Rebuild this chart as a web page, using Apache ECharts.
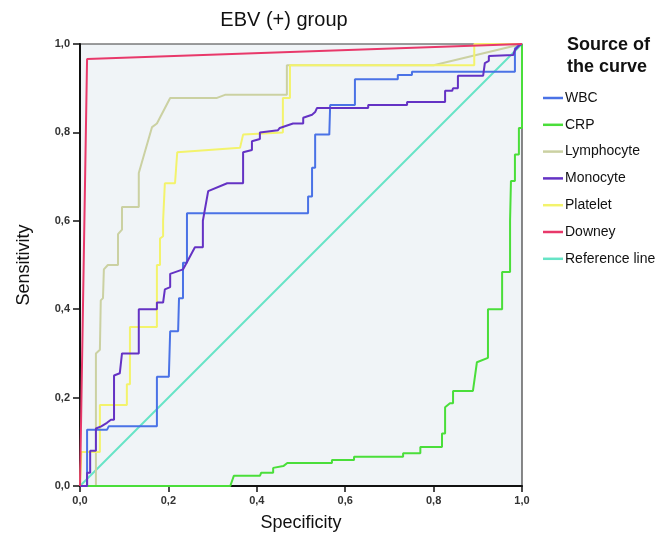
<!DOCTYPE html>
<html>
<head>
<meta charset="utf-8">
<script src="https://cdn.jsdelivr.net/npm/echarts@6/dist/echarts.min.js"></script>
<style>html,body{margin:0;padding:0;background:#fff}#c{width:672px;height:542px}</style>
</head>
<body>
<div id="c"></div>
<script>
const seriesNames = ['WBC','CRP','Lymphocyte','Monocyte','Platelet','Downey','Reference line'];
const xTicks = [0,0.2,0.4,0.6,0.8,1.0];
const yTicks = [0,0.2,0.4,0.6,0.8,1.0];

const wbc = [[0,0],[0.016,0],[0.016,0.127],[0.061,0.127],[0.065,0.135],[0.174,0.135],[0.174,0.247],[0.201,0.247],[0.204,0.35],[0.222,0.35],[0.224,0.425],[0.233,0.425],[0.233,0.505],[0.242,0.505],[0.242,0.617],[0.516,0.617],[0.516,0.655],[0.525,0.655],[0.525,0.72],[0.532,0.72],[0.532,0.795],[0.564,0.795],[0.566,0.862],[0.622,0.862],[0.622,0.92],[0.719,0.92],[0.719,0.93],[0.751,0.93],[0.751,0.937],[0.984,0.937],[0.984,0.99],[0.99,0.995],[1,1]];

const crp = [[0,0],[0.34,0],[0.348,0.023],[0.407,0.023],[0.41,0.03],[0.437,0.03],[0.437,0.041],[0.46,0.045],[0.469,0.052],[0.57,0.052],[0.57,0.059],[0.62,0.059],[0.62,0.066],[0.731,0.066],[0.731,0.074],[0.77,0.074],[0.77,0.088],[0.819,0.088],[0.819,0.119],[0.826,0.119],[0.826,0.178],[0.837,0.187],[0.844,0.187],[0.844,0.215],[0.889,0.215],[0.898,0.28],[0.923,0.29],[0.923,0.40],[0.955,0.40],[0.955,0.484],[0.973,0.484],[0.973,0.60],[0.975,0.69],[0.984,0.69],[0.984,0.75],[0.993,0.75],[0.993,0.81],[1,0.81],[1,1]];

const lymphocyte = [[0,0],[0.036,0],[0.036,0.30],[0.045,0.308],[0.047,0.42],[0.052,0.425],[0.054,0.49],[0.063,0.50],[0.086,0.50],[0.086,0.57],[0.095,0.58],[0.095,0.631],[0.133,0.631],[0.133,0.708],[0.163,0.812],[0.174,0.82],[0.204,0.878],[0.31,0.878],[0.328,0.885],[0.468,0.885],[0.468,0.952],[0.80,0.952],[1,1]];

const monocyte = [[0,0],[0.016,0],[0.016,0.03],[0.023,0.03],[0.023,0.08],[0.036,0.08],[0.036,0.13],[0.048,0.135],[0.061,0.143],[0.07,0.15],[0.077,0.15],[0.077,0.25],[0.09,0.255],[0.095,0.30],[0.133,0.30],[0.133,0.40],[0.174,0.40],[0.174,0.415],[0.188,0.415],[0.192,0.445],[0.204,0.45],[0.204,0.48],[0.233,0.49],[0.244,0.51],[0.26,0.54],[0.278,0.54],[0.278,0.60],[0.29,0.667],[0.333,0.685],[0.369,0.685],[0.369,0.755],[0.389,0.76],[0.389,0.78],[0.407,0.785],[0.407,0.80],[0.448,0.805],[0.452,0.81],[0.482,0.82],[0.505,0.82],[0.505,0.833],[0.525,0.84],[0.532,0.846],[0.536,0.855],[0.652,0.855],[0.652,0.862],[0.74,0.862],[0.74,0.869],[0.826,0.869],[0.826,0.894],[0.842,0.894],[0.844,0.90],[0.855,0.90],[0.855,0.928],[0.912,0.928],[0.916,0.957],[0.925,0.962],[0.925,0.973],[0.98,0.975],[0.984,0.986],[0.995,0.998],[1,1]];

const platelet = [[0,0],[0.003,0.077],[0.045,0.077],[0.045,0.183],[0.106,0.183],[0.106,0.23],[0.113,0.23],[0.113,0.36],[0.174,0.36],[0.174,0.50],[0.181,0.50],[0.181,0.56],[0.188,0.565],[0.188,0.60],[0.192,0.60],[0.192,0.685],[0.215,0.685],[0.22,0.755],[0.362,0.765],[0.369,0.795],[0.459,0.80],[0.459,0.878],[0.475,0.878],[0.475,0.952],[0.892,0.952],[0.892,1.0],[1,1]];

const downey = [[0,0],[0.016,0.966],[1,1]];
const referenceLine = [[0,0],[1,1]];

const seriesData = [wbc, crp, lymphocyte, monocyte, platelet, downey, referenceLine];
const colors = ['#4a72e6','#4ade3a','#cbd1a2','#6432c4','#f3f36c','#e8386a','#66e4c6'];

const fmt = v => v.toFixed(1).replace('.', ',');
const chart = echarts.init(document.getElementById('c'), null, {renderer:'canvas'});
const order = [6,2,4,1,0,3,5];
chart.setOption({
  animation: false,
  color: colors,
  title: [
    {text:'EBV (+) group', left: 284, top: 10, textAlign:'center', padding:0,
     textStyle:{fontFamily:'Liberation Sans, Arial, sans-serif', fontSize:20, fontWeight:'normal', color:'#111'}},
    {text:'Source of\nthe curve', left: 567, top: 34, padding:0,
     textStyle:{fontFamily:'Liberation Sans, Arial, sans-serif', fontSize:18, fontWeight:'bold', color:'#111', lineHeight:22}}
  ],
  legend: {
    orient:'vertical', left: 543, top: 90, padding:0,
    icon:'rect', itemWidth:20, itemHeight:2.5, itemGap:10.8,
    data: seriesNames,
    textStyle:{fontFamily:'Liberation Sans, Arial, sans-serif', fontSize:14, color:'#111', lineHeight:16, padding:[0,0,0,-3]}
  },
  grid: {left:80, top:44, width:442, height:442, show:true, backgroundColor:'#f0f4f7', borderColor:'#3a3a3a', borderWidth:1.2},
  xAxis: {
    type:'value', min:0, max:1, interval:0.2,
    name:'Specificity', nameLocation:'middle', nameGap:28,
    nameTextStyle:{fontFamily:'Liberation Sans, Arial, sans-serif', fontSize:18, color:'#111'},
    axisLine:{show:true, onZero:false, lineStyle:{color:'#111', width:2}},
    axisTick:{show:true, length:6, lineStyle:{color:'#111', width:1.5}},
    axisLabel:{formatter:fmt, fontFamily:'Liberation Sans Narrow, Liberation Sans, Arial, sans-serif', fontSize:11, fontWeight:'bold', color:'#333', margin:9},
    splitLine:{show:false}
  },
  yAxis: {
    type:'value', min:0, max:1, interval:0.2,
    name:'Sensitivity', nameLocation:'middle', nameGap:47,
    nameTextStyle:{fontFamily:'Liberation Sans, Arial, sans-serif', fontSize:18, color:'#111'},
    axisLine:{show:true, onZero:false, lineStyle:{color:'#111', width:2}},
    axisTick:{show:true, length:7, lineStyle:{color:'#111', width:1.5}},
    axisLabel:{formatter:fmt, fontFamily:'Liberation Sans Narrow, Liberation Sans, Arial, sans-serif', fontSize:11, fontWeight:'bold', color:'#333', margin:10},
    splitLine:{show:false}
  },
  series: order.map(i => ({
    name: seriesNames[i], type:'line', data: seriesData[i],
    showSymbol:false, symbol:'none', smooth:false,
    itemStyle:{color: colors[i]},
    lineStyle:{color: colors[i], width:2},
    z: 2 + order.indexOf(i)
  }))
});
</script>
</body>
</html>
